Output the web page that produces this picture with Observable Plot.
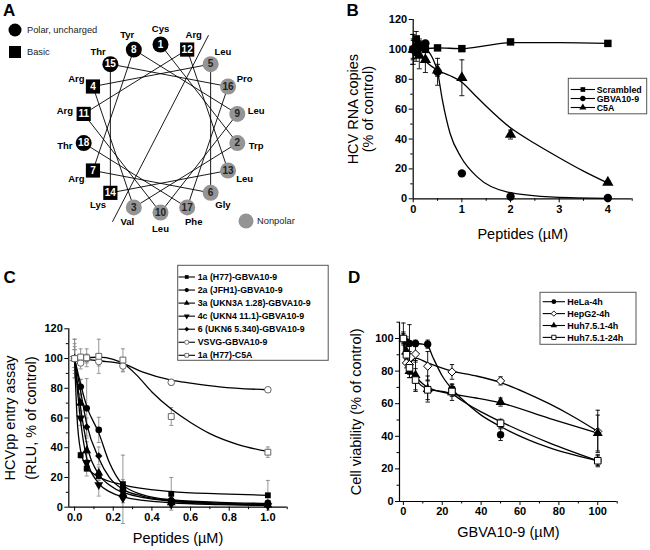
<!DOCTYPE html>
<html>
<head>
<meta charset="utf-8">
<script src="https://cdn.jsdelivr.net/npm/d3@7"></script>
<script src="https://cdn.jsdelivr.net/npm/@observablehq/plot@0.6"></script>
<style>
  html,body{margin:0;padding:0;background:#fff;}
  #fig{position:relative;width:650px;height:550px;overflow:hidden;background:#fff;}
  #fig .panel{position:absolute;}
  #fig .panel svg{display:block;}
</style>
</head>
<body>
<div id="fig"></div>
<script>
// ================= DATA =================
// Panel A – helical wheel
const residueNames = ["Cys","Trp","Val","Arg","Leu","Gly","Arg","Tyr","Leu","Leu","Arg","Arg","Leu","Lys","Thr","Pro","Phe","Thr"];
const residueClass = ["polar","nonpolar","nonpolar","basic","nonpolar","nonpolar","basic","polar","nonpolar","nonpolar","basic","basic","nonpolar","basic","polar","nonpolar","nonpolar","polar"];
const wheelStep = 100;      // degrees between successive residues
const dividerAngle = 29;    // degrees clockwise from top
const dividerReach = 1.27;
const wheelLegend = ["Polar, uncharged","Basic","Nonpolar"];

// Panel B – HCV RNA copies
const bDoses = [0, 0.0625, 0.125, 0.25, 0.5, 1, 2, 4];
const bScrambled = [100, 107, 103, 100, 101, 100.5, 105, 104];
const bScrambledErr = [7, 5, 4, 2, 1, 1, 1, 1];
const bGBVA = [100, 98, 101, 104, 85, 17, 1.5, 0.5];
const bGBVAErr = [10, 6, 5, 2, 9, 1, 0.5, 0.5];
const bC5A = [100, 102, 96, 93, 86, 81, 43, 11];
const bC5AErr = [6, 6, 9, 8.5, 4, 12, 3, 1];
const bFitScrX = [0, 0.1, 0.25, 0.5, 1, 1.5, 2, 3, 4];
const bFitScrY = [103, 101.5, 100.5, 101, 100.5, 102.5, 104.5, 104.5, 104];
const bFitGBVAX = [0, 0.25, 0.4, 0.5, 0.6, 0.76, 0.98, 1.32, 1.94, 2.9, 4];
const bFitGBVAY = [101, 100, 94, 85, 66, 43.5, 28, 14.5, 4.5, 1.1, 0.3];
const bFitC5AX = [0, 0.25, 0.5, 0.75, 1, 1.25, 1.5, 2, 2.5, 3, 3.5, 4];
const bFitC5AY = [101, 92, 86, 82.5, 78, 70, 62, 47.5, 37, 27.5, 18.5, 10.5];
const bLabels = ["Scrambled","GBVA10-9","C5A"];
const bXTicks = [0,1,2,3,4], bXMinor = [0.5,1.5,2.5,3.5,4.5];
const bYTicks = [0,20,40,60,80,100,120], bYMinor = [10,30,50,70,90,110];

// Panel C – HCVpp entry
const cDoses = [0, 0.03125, 0.0625, 0.125, 0.25, 0.5, 1];
const c1a   = [100, 35, 26, 21, 15.5, 9, 8];
const c2a   = [100, 81, 66.5, 52, 12, 4.5, 3];
const c3a   = [100, 70, 38, 23, 9, 3, 1.5];
const c4c   = [100, 60, 30, 15, 6, 2, 1];
const c6    = [100, 81, 54, 34.5, 10.5, 5, 2.5];
const cVSVG = [100, 97, 100, 98, 95, 84, 79];
const cC5A  = [100, 101, 100.5, 101.5, 99, 61, 37];
const c1aErr   = [13, 2, 5, 3, 3, 11, 10];
const c2aErr   = [8, 5, 20, 8.5, 23, 2, 1];
const c3aErr   = [6, 6, 6, 4, 3, 1, 1];
const c4cErr   = [6, 5, 6, 7.5, 3, 1, 1];
const c6Err    = [6, 5, 6, 6, 3, 2, 1];
const cVSVGErr = [13, 4, 3, 3, 4, 2, 1];
const cC5AErr  = [10, 5.5, 6, 11.5, 7.5, 6, 3.5];
const cFit1aX = [0, 0.012, 0.031, 0.0625, 0.125, 0.25, 0.5, 0.75, 1];
const cFit1aY = [100, 62, 38, 27, 20.5, 15, 10.5, 9, 8];
const cFit2aX = [0, 0.031, 0.0625, 0.125, 0.18, 0.25, 0.35, 0.5, 0.75, 1];
const cFit2aY = [100, 83, 68, 50, 30, 15, 8.5, 5, 3.3, 2.5];
const cFit3aX = [0, 0.031, 0.0625, 0.125, 0.18, 0.25, 0.5, 0.75, 1];
const cFit3aY = [100, 67, 43, 22, 15, 10, 4, 2.2, 1.5];
const cFit4cX = [0, 0.031, 0.0625, 0.125, 0.18, 0.25, 0.5, 0.75, 1];
const cFit4cY = [100, 58, 33, 16, 10.5, 7, 3, 1.8, 1.2];
const cFit6X  = [0, 0.031, 0.0625, 0.125, 0.18, 0.25, 0.35, 0.5, 0.75, 1];
const cFit6Y  = [100, 78, 56, 33, 20, 12, 7.5, 4.5, 2.8, 2];
const cFitVSVGX = [0, 0.0625, 0.125, 0.26, 0.35, 0.5, 0.6, 0.75, 1];
const cFitVSVGY = [100, 99.5, 98.5, 96, 91, 85.5, 83.5, 81, 79];
const cFitC5AX = [0, 0.0625, 0.125, 0.2, 0.26, 0.32, 0.4, 0.5, 0.6, 0.7, 0.85, 1];
const cFitC5AY = [100, 100.5, 101, 99.5, 96, 89, 77.5, 66, 57, 49.5, 42, 37.5];
const cLabels = ["1a (H77)-GBVA10-9","2a (JFH1)-GBVA10-9","3a (UKN3A 1.28)-GBVA10-9","4c (UKN4 11.1)-GBVA10-9","6 (UKN6 5.340)-GBVA10-9","VSVG-GBVA10-9","1a (H77)-C5A"];
const cXTicks = [0,0.2,0.4,0.6,0.8,1.0], cXMinor = [0.1,0.3,0.5,0.7,0.9,1.1];
const cYTicks = [0,20,40,60,80,100,120], cYMinor = [10,30,50,70,90,110];

// Panel D – cell viability
const dDoses = [0, 1.5625, 3.125, 6.25, 12.5, 25, 50, 100];
const dHeLa  = [100, 98, 97, 97, 96.5, 69, 41, 25];
const dHepG2 = [100, 85, 84, 90.5, 83, 79.5, 74, 43];
const dHuh4  = [100, 92, 80, 77.5, 69, 67, 61, 42];
const dHuh24 = [100, 90, 82, 74.5, 68.5, 67.5, 48, 25];
const dHeLaErr  = [9.5, 3, 11.5, 2, 2.5, 3, 3.6, 3];
const dHepG2Err = [2, 3, 8, 5, 9, 4.5, 2.5, 13];
const dHuh4Err  = [4, 5, 4, 9, 8, 5, 2.5, 11];
const dHuh24Err = [3, 3, 4, 7, 6, 3, 2.5, 3.7];
const dFitHeLaX  = [0, 3, 6.25, 10, 12.5, 15, 20, 25, 30, 40, 50, 75, 100];
const dFitHeLaY  = [100, 98, 97, 96.5, 95.5, 89, 77, 69, 63, 53, 46, 33, 25];
const dFitHepG2X = [0, 1.5, 3, 6.25, 12.5, 25, 37.5, 50, 62.5, 75, 87.5, 100];
const dFitHepG2Y = [100, 90, 85, 88, 85, 80, 77, 73, 67, 60, 52, 43];
const dFitHuh4X  = [0, 1.5, 3, 6.25, 12.5, 25, 37.5, 50, 75, 100];
const dFitHuh4Y  = [100, 88, 81, 76.5, 70, 66, 63.5, 60.5, 51, 42];
const dFitHuh24X = [0, 1.5, 3, 6.25, 12.5, 20, 25, 30, 40, 50, 75, 100];
const dFitHuh24Y = [100, 89, 82, 75, 69, 67.5, 66, 62, 55, 49, 36, 25];
const dLabels = ["HeLa-4h","HepG2-4h","Huh7.5.1-4h","Huh7.5.1-24h"];
const dXTicks = [0,20,40,60,80,100], dXMinor = [10,30,50,70,90,110];
const dYTicks = [0,20,40,60,80,100], dYMinor = [10,30,50,70,90,110];

// ================= HELPERS =================
const FONT = '"Liberation Sans", Arial, Helvetica, sans-serif';
const fig = document.getElementById("fig");
const capSymbol = {draw(ctx, size){ const w = Math.sqrt(size/Math.PI); ctx.moveTo(-w,0); ctx.lineTo(w,0); }};
const symbolTypes = {square:d3.symbolSquare, circle:d3.symbolCircle, triangle:d3.symbolTriangle, diamond2:d3.symbolDiamond2};

function place(svg, left, top){
  const div = document.createElement("div");
  div.className = "panel"; div.style.left = left+"px"; div.style.top = top+"px";
  div.appendChild(svg); fig.appendChild(div);
}
function pts(doses, ys, errs){ return doses.map((x,i)=>({x, y:ys[i], lo:ys[i]-errs[i], hi:ys[i]+errs[i], e:errs[i]})); }
function fit(xs, ys){ return xs.map((x,i)=>({x, y:ys[i]})); }
function errMarks(p, color, capR){
  const d = p.filter(q=>q.e>0);
  return [
    Plot.ruleX(d,{x:"x", y1:"lo", y2:"hi", stroke:color, strokeWidth:0.9}),
    Plot.dot(d,{x:"x", y:"lo", symbol:capSymbol, r:capR, stroke:color, fill:"none", strokeWidth:0.9}),
    Plot.dot(d,{x:"x", y:"hi", symbol:capSymbol, r:capR, stroke:color, fill:"none", strokeWidth:0.9})
  ];
}
function dotMark(p, s, r){
  return Plot.dot(p,{x:"x", y:"y", symbol:s.symbol, rotate:s.rotate||0, r,
    fill: s.filled ? "black" : "white", stroke: s.filled ? "none" : (s.stroke||"black"), strokeWidth:1});
}
function axes(c){
  return [
    Plot.axisX({ticks:c.xTicks, tickSize:4, tickPadding:2, tickFormat:c.xFormat, label:null, fontSize:11, fontWeight:"bold"}),
    Plot.axisX({ticks:c.xMinor, tickSize:2.5, tickFormat:()=>"", label:null}),
    Plot.axisY({ticks:c.yTicks, tickSize:4, tickPadding:2, label:null, fontSize:11, fontWeight:"bold"}),
    Plot.axisY({ticks:c.yMinor, tickSize:2.5, tickFormat:()=>"", label:null}),
    Plot.ruleX([c.xDomain[0]],{strokeWidth:1.2}),
    Plot.ruleY([c.yDomain[0]],{strokeWidth:1.2})
  ];
}
function titles(yLines, yDx, xTitle, xDy){
  const m = yLines.map((t,i)=>Plot.text([t],{text:d=>d, frameAnchor:"left", rotate:-90, dx:yDx[i], textAnchor:"middle", lineAnchor:"middle", fontSize:14.5, fontWeight:"normal"}));
  m.push(Plot.text([xTitle],{text:d=>d, frameAnchor:"bottom", dy:xDy, textAnchor:"middle", lineAnchor:"middle", fontSize:14.5, fontWeight:"normal"}));
  return m;
}
const baseStyle = {fontFamily:FONT, fontSize:"11px", fontWeight:"bold", overflow:"visible", background:"transparent", color:"black"};

// ================= PANEL A =================
const wheel = residueNames.map((name,i)=>{
  const th = i*wheelStep*Math.PI/180;
  return {n:String(i+1), name, cls:residueClass[i], x:Math.sin(th), y:Math.cos(th), lx:Math.sin(th)*1.245, ly:Math.cos(th)*1.19};
});
const chords = wheel.slice(0,-1).map((d,i)=>({x1:d.x, y1:d.y, x2:wheel[i+1].x, y2:wheel[i+1].y}));
const dv = dividerAngle*Math.PI/180;
const divider = [{x1:-Math.sin(dv)*dividerReach, y1:-Math.cos(dv)*dividerReach, x2:Math.sin(dv)*dividerReach, y2:Math.cos(dv)*dividerReach}];
const GRAY = "#949494";
const plotA = Plot.plot({
  width:330, height:262, marginLeft:82, marginRight:92, marginTop:44, marginBottom:50,
  x:{domain:[-1,1], axis:null}, y:{domain:[-1,1], axis:null},
  style: baseStyle,
  marks:[
    Plot.link(chords,{x1:"x1", y1:"y1", x2:"x2", y2:"y2", stroke:"black", strokeWidth:0.9}),
    Plot.link(divider,{x1:"x1", y1:"y1", x2:"x2", y2:"y2", stroke:"black", strokeWidth:0.9}),
    Plot.dot(wheel.filter(d=>d.cls!=="basic"),{x:"x", y:"y", r:8, symbol:"circle", fill:d=>d.cls==="polar"?"black":GRAY, stroke:"none"}),
    Plot.dot(wheel.filter(d=>d.cls==="basic"),{x:"x", y:"y", r:8, symbol:"square", fill:"black", stroke:"none"}),
    Plot.text(wheel.filter(d=>d.cls!=="nonpolar"),{x:"x", y:"y", text:"n", fill:"white", fontSize:10, fontWeight:"bold"}),
    Plot.text(wheel.filter(d=>d.cls==="nonpolar"),{x:"x", y:"y", text:"n", fill:"#222", fontSize:10, fontWeight:"bold"}),
    Plot.text(wheel,{x:"lx", y:"ly", text:"name", fill:"black", fontSize:9.5, fontWeight:"bold"})
  ]
});
place(plotA, 0, 0);

// ================= PANEL B =================
const bCfg = {xDomain:[0,4.5], yDomain:[0,120], xTicks:bXTicks, xMinor:bXMinor, yTicks:bYTicks, yMinor:bYMinor, xFormat:d3.format("d")};
const bSeries = [
  {label:bLabels[0], p:pts(bDoses,bScrambled,bScrambledErr), f:fit(bFitScrX,bFitScrY), symbol:"square", filled:true},
  {label:bLabels[1], p:pts(bDoses,bGBVA,bGBVAErr), f:fit(bFitGBVAX,bFitGBVAY), symbol:"circle", filled:true},
  {label:bLabels[2], p:pts(bDoses,bC5A,bC5AErr), f:fit(bFitC5AX,bFitC5AY), symbol:"triangle", filled:true}
];
const plotB = Plot.plot({
  width:320, height:262, marginLeft:82.7, marginRight:18.3, marginTop:19, marginBottom:63.7,
  x:{domain:bCfg.xDomain}, y:{domain:bCfg.yDomain}, style:baseStyle,
  marks:[
    ...bSeries.flatMap(s=>errMarks(s.p,"black",2.5)),
    ...bSeries.map(s=>Plot.line(s.f,{x:"x", y:"y", curve:"monotone-x", stroke:"black", strokeWidth:1.3})),
    ...bSeries.map(s=>dotMark(s.p,s,4.2)),
    ...axes(bCfg),
    ...titles(["HCV RNA copies","(% of control)"],[-60,-44.5],"Peptides (µM)",35.7)
  ]
});
place(plotB, 330, 0);

// ================= PANEL C =================
const cCfg = {xDomain:[-0.03,1.1], yDomain:[0,120], xTicks:cXTicks, xMinor:cXMinor, yTicks:cYTicks, yMinor:cYMinor, xFormat:d3.format(".1f")};
const OPEN_C = "#666";
const cSeries = [
  {label:cLabels[0], p:pts(cDoses,c1a,c1aErr), f:fit(cFit1aX,cFit1aY), symbol:"square", filled:true},
  {label:cLabels[1], p:pts(cDoses,c2a,c2aErr), f:fit(cFit2aX,cFit2aY), symbol:"circle", filled:true},
  {label:cLabels[2], p:pts(cDoses,c3a,c3aErr), f:fit(cFit3aX,cFit3aY), symbol:"triangle", filled:true},
  {label:cLabels[3], p:pts(cDoses,c4c,c4cErr), f:fit(cFit4cX,cFit4cY), symbol:"triangle", rotate:180, filled:true},
  {label:cLabels[4], p:pts(cDoses,c6,c6Err), f:fit(cFit6X,cFit6Y), symbol:"diamond2", filled:true},
  {label:cLabels[5], p:pts(cDoses,cVSVG,cVSVGErr), f:fit(cFitVSVGX,cFitVSVGY), symbol:"circle", filled:false, stroke:OPEN_C},
  {label:cLabels[6], p:pts(cDoses,cC5A,cC5AErr), f:fit(cFitC5AX,cFitC5AY), symbol:"square", filled:false, stroke:OPEN_C}
];
const plotC = Plot.plot({
  width:330, height:288, marginLeft:68.3, marginRight:43.3, marginTop:66.3, marginBottom:43.3,
  x:{domain:cCfg.xDomain}, y:{domain:cCfg.yDomain}, style:baseStyle,
  marks:[
    ...cSeries.flatMap(s=>errMarks(s.p,"#8a8a8a",2)),
    ...cSeries.map(s=>Plot.line(s.f,{x:"x", y:"y", curve:"monotone-x", stroke:"black", strokeWidth:1.3})),
    ...cSeries.map(s=>dotMark(s.p,s,3.3)),
    ...axes(cCfg),
    ...titles(["HCVpp entry assay","(RLU, % of control)"],[-58.3,-37.5],"Peptides (µM)",31.3)
  ]
});
place(plotC, 0, 262);

// ================= PANEL D =================
const dCfg = {xDomain:[-2,110], yDomain:[0,110], xTicks:dXTicks, xMinor:dXMinor, yTicks:dYTicks, yMinor:dYMinor, xFormat:d3.format("d")};
const dSeries = [
  {label:dLabels[0], p:pts(dDoses,dHeLa,dHeLaErr), f:fit(dFitHeLaX,dFitHeLaY), symbol:"circle", filled:true},
  {label:dLabels[1], p:pts(dDoses,dHepG2,dHepG2Err), f:fit(dFitHepG2X,dFitHepG2Y), symbol:"diamond2", filled:false},
  {label:dLabels[2], p:pts(dDoses,dHuh4,dHuh4Err), f:fit(dFitHuh4X,dFitHuh4Y), symbol:"triangle", filled:true},
  {label:dLabels[3], p:pts(dDoses,dHuh24,dHuh24Err), f:fit(dFitHuh24X,dFitHuh24Y), symbol:"square", filled:false}
];
const plotD = Plot.plot({
  width:320, height:288, marginLeft:69, marginRight:33.3, marginTop:59.7, marginBottom:49,
  x:{domain:dCfg.xDomain}, y:{domain:dCfg.yDomain}, style:baseStyle,
  marks:[
    ...dSeries.flatMap(s=>errMarks(s.p,"black",2.2)),
    ...dSeries.map(s=>Plot.line(s.f,{x:"x", y:"y", curve:"monotone-x", stroke:"black", strokeWidth:1.3})),
    ...dSeries.map(s=>dotMark(s.p,s,3.7)),
    ...axes(dCfg),
    ...titles(["Cell viability (% of control)"],[-43.5],"GBVA10-9 (µM)",31)
  ]
});
place(plotD, 330, 262);

// ================= OVERLAY: letters + legends =================
const ov = d3.select(fig).append("svg").attr("width",650).attr("height",550)
  .style("position","absolute").style("left","0px").style("top","0px").attr("font-family",FONT);
[["A",3,16],["B",346.5,16],["C",3.5,283],["D",348,283]].forEach(([t,x,y])=>
  ov.append("text").attr("x",x).attr("y",y).attr("font-size",17).attr("font-weight","bold").text(t));

// wheel legend
const wl = [
  {label:wheelLegend[0], type:d3.symbolCircle, fill:"black", x:15, y:30, area:Math.PI*6.5*6.5},
  {label:wheelLegend[1], type:d3.symbolSquare, fill:"black", x:15, y:52, area:144},
  {label:wheelLegend[2], type:d3.symbolCircle, fill:GRAY, x:246, y:221, area:Math.PI*7.5*7.5}
];
wl.forEach(e=>{
  ov.append("path").attr("d",d3.symbol().type(e.type).size(e.area)()).attr("transform",`translate(${e.x},${e.y})`).attr("fill",e.fill);
  ov.append("text").attr("x",e.x+(e.label==="Nonpolar"?11:12)).attr("y",e.y).attr("dy","0.35em").attr("font-size",9.3).attr("fill","#222").text(e.label);
});

function legendBox(cfg){
  const g = ov.append("g");
  g.append("rect").attr("x",cfg.x).attr("y",cfg.y).attr("width",cfg.w).attr("height",cfg.h)
    .attr("fill","white").attr("stroke","#555").attr("stroke-width",1);
  cfg.series.forEach((s,i)=>{
    const cy = cfg.row0 + i*cfg.step, mx = (cfg.lx0+cfg.lx1)/2;
    g.append("line").attr("x1",cfg.lx0).attr("x2",cfg.lx1).attr("y1",cy).attr("y2",cy).attr("stroke","black").attr("stroke-width",1.1);
    g.append("path").attr("d",d3.symbol().type(symbolTypes[s.symbol]).size(cfg.area)())
      .attr("transform",`translate(${mx},${cy}) rotate(${s.rotate||0})`)
      .attr("fill",s.filled?"black":"white").attr("stroke",s.filled?"none":(s.stroke||"black")).attr("stroke-width",0.9);
    g.append("text").attr("x",cfg.tx).attr("y",cy).attr("dy","0.35em").attr("font-size",cfg.fs).attr("font-weight","bold").text(s.label);
  });
}
legendBox({x:568.3, y:78.3, w:78.4, h:35.5, row0:89.5, step:9, lx0:570.7, lx1:595, tx:596.7, fs:8.8, area:22, series:bSeries});
legendBox({x:177.7, y:265.3, w:150.5, h:95, row0:277, step:13.05, lx0:178.5, lx1:195, tx:197.7, fs:8.8, area:14, series:cSeries});
legendBox({x:540, y:292.3, w:96, h:52, row0:301.7, step:11.9, lx0:542.7, lx1:565, tx:567.3, fs:9, area:18, series:dSeries});
</script>
</body>
</html>
